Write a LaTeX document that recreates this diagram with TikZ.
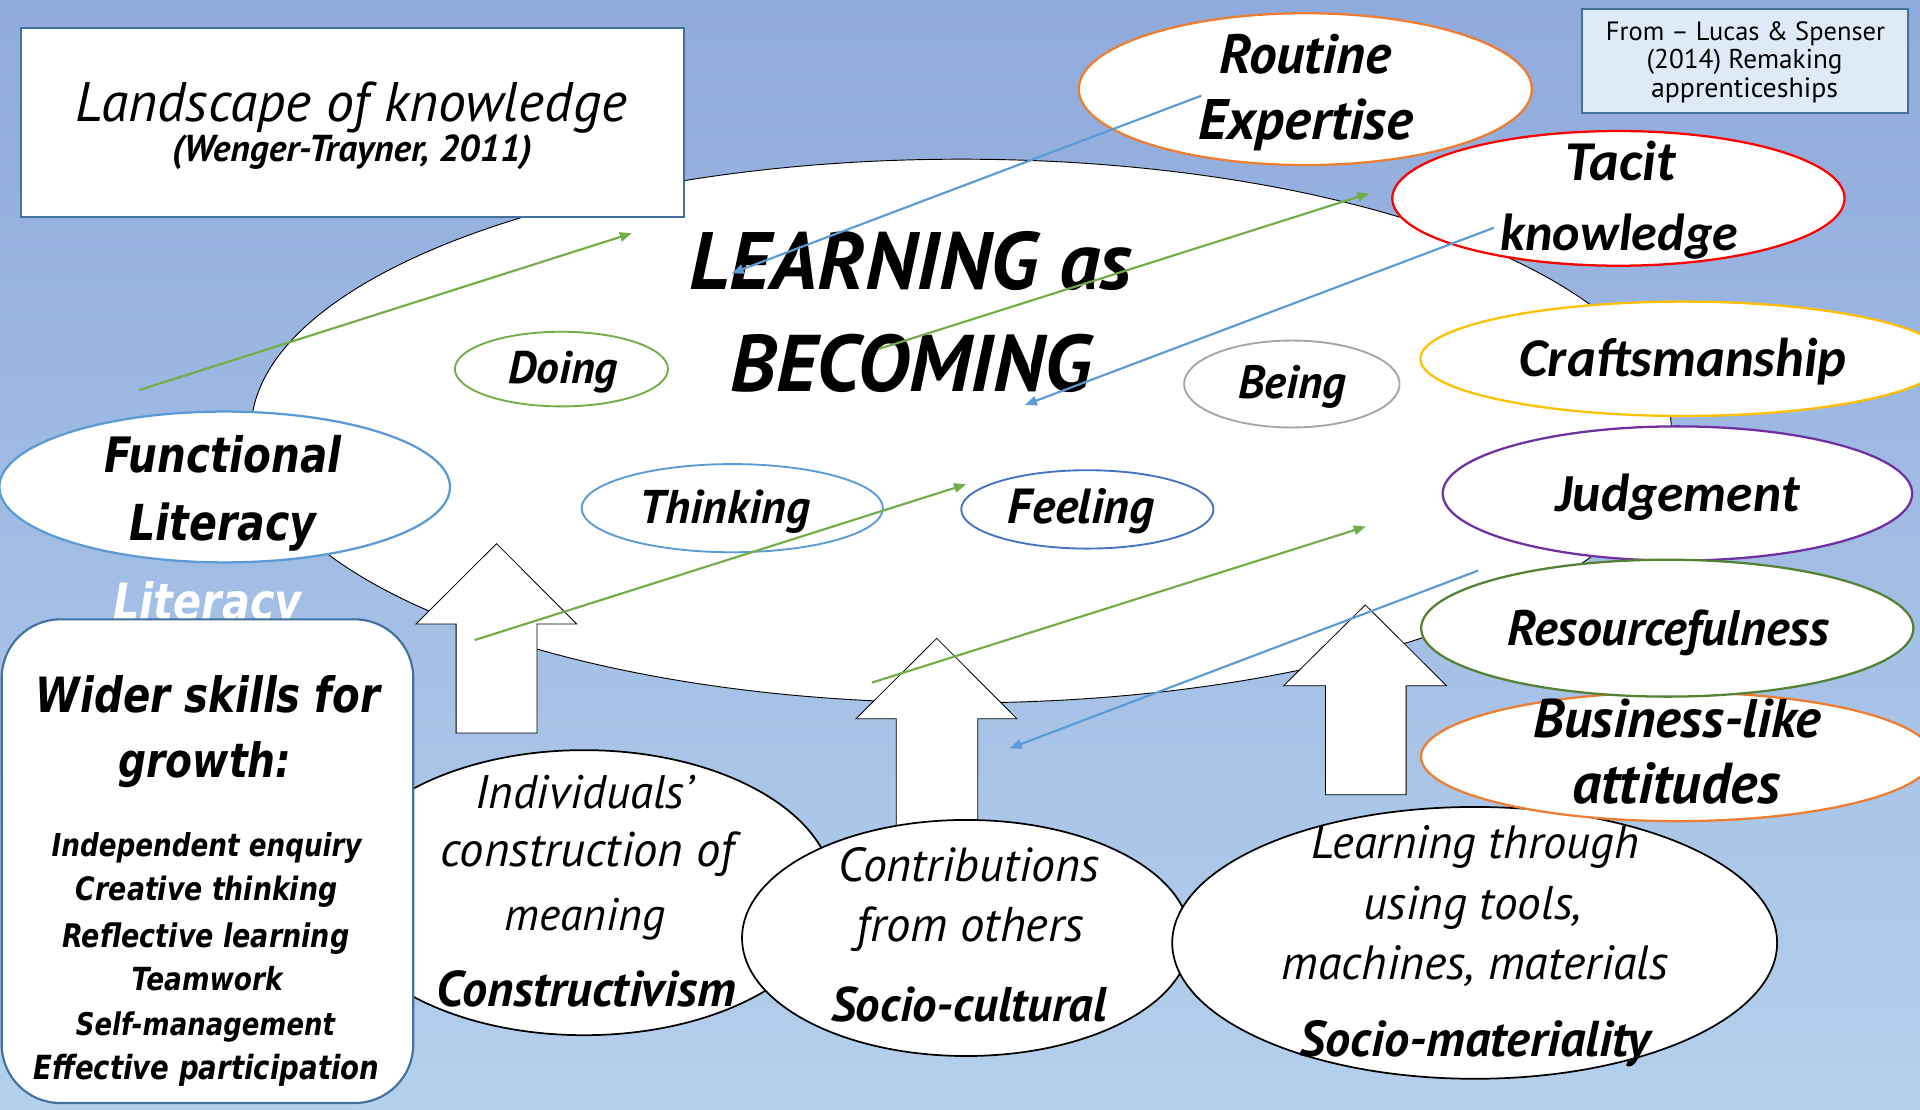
\documentclass[tikz,border=0pt]{standalone}
\usepackage{fontspec}
\usepackage{graphicx}
\newfontfamily\cf{PT Sans}
\newfontfamily\cbf{Carlito}
\newfontfamily\vf[FakeStretch=0.83]{DejaVu Sans}
\usetikzlibrary{arrows.meta,shapes.geometric}
\newdimen\dpx \dpx=0.9184pt
\newcommand\tw[2]{\resizebox{#1\dpx}{!}{#2}}
\definecolor{bgtop}{HTML}{8FAADC}
\definecolor{bgbot}{HTML}{B4D0EC}
\definecolor{orangeC}{HTML}{ED7D31}
\definecolor{redC}{HTML}{FF0000}
\definecolor{goldC}{HTML}{FFC000}
\definecolor{purpleC}{HTML}{7030A0}
\definecolor{resgreen}{HTML}{548235}
\definecolor{lgreen}{HTML}{70AD47}
\definecolor{lblue}{HTML}{5B9BD5}
\definecolor{dblue}{HTML}{4472C4}
\definecolor{grayC}{HTML}{A5A5A5}
\definecolor{boxblue}{HTML}{41719C}
\definecolor{srcfill}{HTML}{DEEBF7}
\begin{document}
\begin{tikzpicture}[x=0.9184pt, y=-0.9184pt,
  ell/.style={ellipse, draw=#1, fill=white, inner sep=0pt, line width=1.7pt},
  rad/.style 2 args={minimum width={2*(#1)*\dpx}, minimum height={2*(#2)*\dpx}},
  txt/.style={inner sep=0pt, anchor=base, text=black},
  blockarr/.style={draw=black, fill=white, line width=0.6pt, line join=miter},
  garr/.style={draw=lgreen, line width=1.6pt, -{Triangle[length=9pt,width=7pt]}},
  barr/.style={draw=lblue, line width=1.6pt, -{Triangle[length=9pt,width=7pt]}},
  boxnode/.style={draw=boxblue, line width=1.6pt, inner sep=0pt}
]
\useasboundingbox (0,0) rectangle (1568,906);
\clip (0,0) rectangle (1568,906);
\shade[top color=bgtop, bottom color=bgbot] (0,0) rectangle (1568,906);

% central ellipse
\node[ell=black, line width=0.7pt, rad={580}{222}] (big) at (785,352) {};

% title box
\node[boxnode, fill=white, minimum width={541.4*\dpx}, minimum height={154.4*\dpx}] (title) at (288.2,100.3) {};
\node[txt] (title1) at (287,99.5) {\tw{450}{\cf\itshape Landscape of knowledge}};
\node[txt] (title2) at (287.5,131.5) {\tw{294}{\cf\bfseries\itshape (Wenger-Trayner, 2011)}};

% source box
\node[boxnode, fill=srcfill, minimum width={266.8*\dpx}, minimum height={84.4*\dpx}] (src) at (1425,49.8) {};
\node[txt] (src1) at (1425.5,32.7) {\tw{228}{\cf From – Lucas \& Spenser}};
\node[txt] (src2) at (1424.7,56) {\tw{160}{\cf (2014) Remaking}};
\node[txt] (src3) at (1424.7,79.3) {\tw{152.6}{\cf apprenticeships}};

% block arrows
\draw[blockarr] (405.5,444) -- (471,509.6) -- (438.6,509.6) -- (438.6,598.6) -- (372.5,598.6) -- (372.5,509.6) -- (339.7,509.6) -- cycle;
\draw[blockarr] (765,521.3) -- (830.5,587) -- (798.5,587) -- (798.5,700) -- (732,700) -- (732,587) -- (699,587) -- cycle;
\draw[blockarr] (1115,494) -- (1181.3,560) -- (1148.3,560) -- (1148.3,649) -- (1082.4,649) -- (1082.4,560) -- (1048.3,560) -- cycle;

% main title text
\node[txt] (learn1) at (743.8,236.8) {\tw{361.6}{\cf\bfseries\itshape LEARNING as}};
\node[txt] (learn2) at (743.9,320) {\tw{294}{\cf\bfseries\itshape BECOMING}};

% small ellipses
\node[ell=lgreen, line width=1.4pt, rad={87}{30.5}] (doing) at (458.5,301.4) {};
\node[txt] (doingt) at (459.9,313) {\tw{89.2}{\cf\bfseries\itshape Doing}};
\node[ell=lblue, line width=1.4pt, rad={123}{36}] (thinking) at (598,415) {};
\node[txt] (thinkingt) at (591.9,427.9) {\tw{139}{\cf\bfseries\itshape Thinking}};
\node[ell=dblue, line width=1.4pt, rad={103}{32}] (feeling) at (888,416) {};
\node[txt] (feelingt) at (883,427.9) {\tw{119.7}{\cf\bfseries\itshape Feeling}};
\node[ell=grayC, line width=1.4pt, rad={88}{35.5}] (being) at (1055,313.6) {};
\node[txt] (beingt) at (1055.4,325.3) {\tw{88.3}{\cf\bfseries\itshape Being}};

% functional literacy
\node[ell=lblue, rad={184}{61.6}] (func) at (183.5,397.7) {};
\node[txt] (func1) at (182.4,385.5) {\tw{193.3}{\vf\bfseries\itshape Functional}};
\node[txt] (func2) at (182.1,441.3) {\tw{153}{\vf\bfseries\itshape Literacy}};
\node[txt, text=white] (ghost) at (169.5,506) {\tw{154}{\vf\bfseries\itshape Literacy}};

% individuals ellipse
\node[ell=black, line width=1.3pt, rad={204}{116.4}] (indiv) at (477,729) {};
\node[txt] (indiv1) at (477.3,660) {\tw{178}{\cf\itshape Individuals’}};
\node[txt] (indiv2) at (479.8,707.8) {\tw{239.6}{\cf\itshape construction of}};
\node[txt] (indiv3) at (477.7,759.5) {\tw{131.3}{\cf\itshape meaning}};
\node[txt] (indiv4) at (478.7,822.1) {\tw{244.2}{\cf\bfseries\itshape Constructivism}};

% wider skills box
\node[boxnode, fill=white, rounded corners=44pt, minimum width={336.1*\dpx}, minimum height={395*\dpx}] (wider) at (169.45,703.3) {};
\node[txt] (wider1) at (169.9,581.8) {\tw{281}{\vf\bfseries\itshape Wider skills for}};
\node[txt] (wider2) at (167.3,635) {\tw{141.4}{\vf\bfseries\itshape growth:}};
\node[txt] (sk1) at (168.8,699.5) {\tw{253.2}{\vf\bfseries\itshape Independent enquiry}};
\node[txt] (sk2) at (168.8,735.5) {\tw{213.5}{\vf\bfseries\itshape Creative thinking}};
\node[txt] (sk3) at (168.2,773.5) {\tw{234.3}{\vf\bfseries\itshape Reflective learning}};
\node[txt] (sk4) at (169.2,808.8) {\tw{123.3}{\vf\bfseries\itshape Teamwork}};
\node[txt] (sk5) at (167.8,845.7) {\tw{211.6}{\vf\bfseries\itshape Self-management}};
\node[txt] (sk6) at (168.5,881.7) {\tw{282.6}{\vf\bfseries\itshape Effective participation}};

% contributions
\node[ell=black, line width=1.3pt, rad={183}{96.4}] (contrib) at (789,766) {};
\node[txt] (contrib1) at (791.3,720) {\tw{212.6}{\cf\itshape Contributions}};
\node[txt] (contrib2) at (792.3,769) {\tw{185.5}{\cf\itshape from others}};
\node[txt] (contrib3) at (791.2,834.4) {\tw{225}{\cf\bfseries\itshape Socio-cultural}};

% learning through
\node[ell=black, line width=1.3pt, rad={247}{111}] (tools) at (1204.3,770) {};
\node[txt] (tools1) at (1204.5,701.2) {\tw{267.5}{\cf\itshape Learning through}};
\node[txt] (tools2) at (1202.8,750.7) {\tw{178.4}{\cf\itshape using tools,}};
\node[txt] (tools3) at (1204.8,800.2) {\tw{316.4}{\cf\itshape machines, materials}};
\node[txt] (tools4) at (1204.8,863.2) {\tw{286.5}{\cf\bfseries\itshape Socio-materiality}};

% right-hand qualities
\node[ell=orangeC, rad={185}{62}] (routine) at (1066,72.8) {};
\node[txt] (routine1) at (1066,60.4) {\tw{140.4}{\cf\bfseries\itshape Routine}};
\node[txt] (routine2) at (1066.6,114.3) {\tw{175}{\cf\bfseries\itshape Expertise}};
\node[ell=redC, rad={184.7}{55}] (tacit) at (1321.7,162) {};
\node[txt] (tacit1) at (1323.7,147) {\tw{89.7}{\cbf\bfseries\itshape Tacit}};
\node[txt] (tacit2) at (1322.4,204.2) {\tw{194}{\cbf\bfseries\itshape knowledge}};
\node[ell=goldC, rad={214.6}{46.7}] (craft) at (1374.6,293) {};
\node[txt] (craftt) at (1374.5,307.6) {\tw{267}{\cbf\bfseries\itshape Craftsmanship}};
\node[ell=purpleC, rad={191.7}{54.8}] (judge) at (1369.9,403) {};
\node[txt] (judget) at (1369.8,417.9) {\tw{199.6}{\cbf\bfseries\itshape Judgement}};
\node[ell=orangeC, rad={209}{52.6}] (business) at (1369.5,618) {};
\node[txt] (business1) at (1369.4,602.5) {\tw{234.7}{\cf\bfseries\itshape Business-like}};
\node[txt] (business2) at (1368.9,655.8) {\tw{169.7}{\cf\bfseries\itshape attitudes}};
\node[ell=resgreen, rad={201}{55.9}] (resource) at (1361.6,513) {};
\node[txt] (resourcet) at (1362.4,526.9) {\tw{262.8}{\cf\bfseries\itshape Resourcefulness}};

% thin arrows
\coordinate (g1s) at (113.8,318.5); \coordinate (g1e) at (516,190.5);
\coordinate (g2s) at (717.5,285);   \coordinate (g2e) at (1118.3,157.9);
\coordinate (g3s) at (387.7,522.7); \coordinate (g3e) at (789,395.5);
\coordinate (g4s) at (712,557.5);   \coordinate (g4e) at (1115.4,430);
\coordinate (b1s) at (981.2,78.1);  \coordinate (b1e) at (597.5,223.2);
\coordinate (b2s) at (1220,186);    \coordinate (b2e) at (837,330.7);
\coordinate (b3s) at (1207,466);    \coordinate (b3e) at (824.6,611.1);
\draw[garr] (g1s) -- (g1e);
\draw[garr] (g2s) -- (g2e);
\draw[garr] (g3s) -- (g3e);
\draw[garr] (g4s) -- (g4e);
\draw[barr] (b1s) -- (b1e);
\draw[barr] (b2s) -- (b2e);
\draw[barr] (b3s) -- (b3e);
\end{tikzpicture}
\end{document}
